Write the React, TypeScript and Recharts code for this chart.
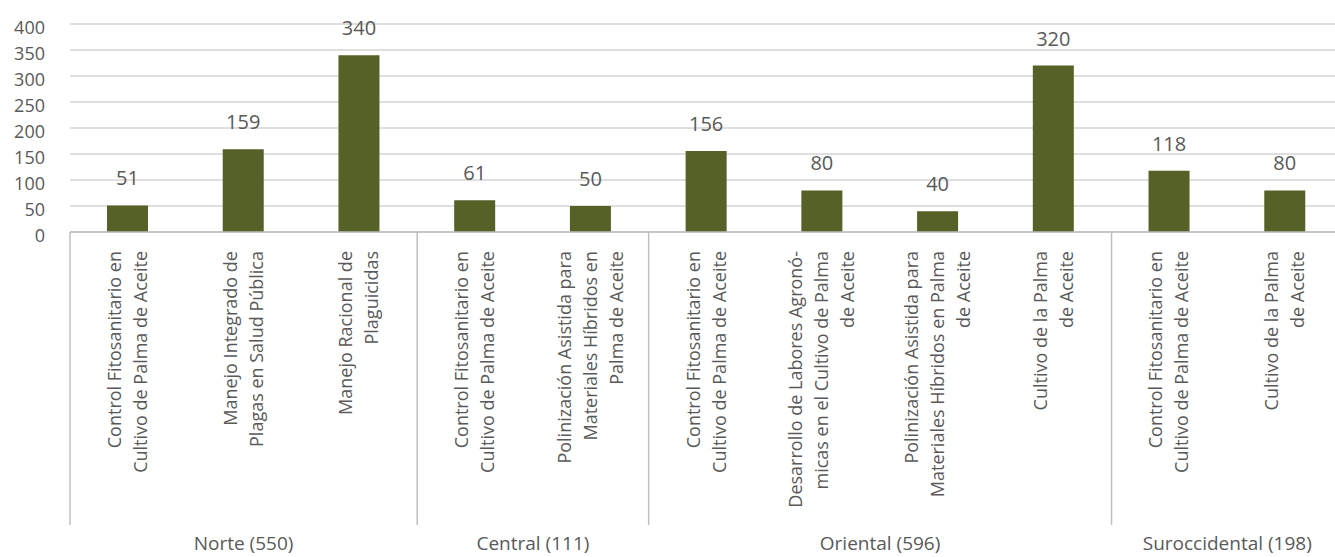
import { BarChart, Bar, XAxis, YAxis, CartesianGrid, LabelList } from "recharts";

const categoryLabels = [
  "Control Fitosanitario en\nCultivo de Palma de Aceite",
  "Manejo Integrado de\nPlagas en Salud Pública",
  "Manejo Racional de\nPlaguicidas",
  "Control Fitosanitario en\nCultivo de Palma de Aceite",
  "Polinización Asistida para\nMateriales Híbridos en\nPalma de Aceite",
  "Control Fitosanitario en\nCultivo de Palma de Aceite",
  "Desarrollo de Labores Agronó-\nmicas en el Cultivo de Palma\nde Aceite",
  "Polinización Asistida para\nMateriales Híbridos en Palma\nde Aceite",
  "Cultivo de la Palma\nde Aceite",
  "Control Fitosanitario en\nCultivo de Palma de Aceite",
  "Cultivo de la Palma\nde Aceite",
];

const values = [51, 159, 340, 61, 50, 156, 80, 40, 320, 118, 80];

const groupLabels = ["Norte (550)", "Central (111)", "Oriental (596)", "Suroccidental (198)"];
const groupSizes = [3, 2, 4, 2];

const yTicks = [0, 50, 100, 150, 200, 250, 300, 350, 400];

const data = values.map((v, i) => ({ key: String(i), value: v }));

const CHART_W = 1343;
const CHART_H = 557;
const Y_W = 70;
const BAND = (CHART_W - Y_W) / values.length;
const TEXT = "#595959";
const LINE = "#bfbfbf";
const FONT = "'Open Sans', sans-serif";

const groupStarts = groupSizes.map((_, g) => groupSizes.slice(0, g).reduce((a, b) => a + b, 0));

function CategoryTick(props: any) {
  const { x, y, payload } = props;
  const i = payload.index;
  const lines = categoryLabels[i].split("\n");
  const n = lines.length;
  const top = y + 19;
  const g = groupStarts.indexOf(i);
  return (
    <g>
      {lines.map((ln, k) => {
        const lx = x + (k - (n - 1) / 2) * 26 + 6;
        return (
          <text
            key={k}
            x={lx}
            y={top}
            transform={`rotate(-90, ${lx}, ${top})`}
            textAnchor="end"
            fill={TEXT}
            fontSize={18}
            fontFamily={FONT}
          >
            {ln}
          </text>
        );
      })}
      {g >= 0 && (
        <>
          <line x1={x - BAND / 2} x2={x - BAND / 2} y1={y} y2={y + 293} stroke={LINE} strokeWidth={1.5} />
          <text
            x={x - BAND / 2 + (groupSizes[g] * BAND) / 2}
            y={y + 318}
            textAnchor="middle"
            fill={TEXT}
            fontSize={19}
            fontFamily={FONT}
          >
            {groupLabels[g]}
          </text>
        </>
      )}
      {i === values.length - 1 && (
        <line x1={x + BAND / 2} x2={x + BAND / 2} y1={y} y2={y + 293} stroke={LINE} strokeWidth={1.5} />
      )}
    </g>
  );
}

export default function App() {
  return (
    <div
      style={{
        position: "absolute",
        left: 0,
        top: 0,
        width: 1335,
        height: 557,
        overflow: "hidden",
        background: "#fff",
      }}
    >
      <BarChart width={CHART_W} height={CHART_H} data={data} margin={{ top: 24, right: 0, left: 0, bottom: 0 }}>
        <CartesianGrid vertical={false} stroke="#d4d4d4" strokeWidth={1.5} />
        <XAxis
          dataKey="key"
          height={325}
          interval={0}
          tickLine={false}
          tickSize={0}
          tickMargin={0}
          axisLine={{ stroke: LINE, strokeWidth: 1.5 }}
          tick={<CategoryTick />}
        />
        <YAxis
          width={Y_W}
          domain={[0, 400]}
          ticks={yTicks}
          interval={0}
          axisLine={false}
          tickLine={false}
          tickSize={0}
          tickMargin={25}
          tick={{ fill: TEXT, fontSize: 18, fontFamily: FONT, dy: 4 }}
        />
        <Bar dataKey="value" fill="#556126" barSize={41} isAnimationActive={false}>
          <LabelList
            dataKey="value"
            position="top"
            offset={20}
            fill={TEXT}
            fontSize={20}
            fontFamily={FONT}
          />
        </Bar>
      </BarChart>
    </div>
  );
}
